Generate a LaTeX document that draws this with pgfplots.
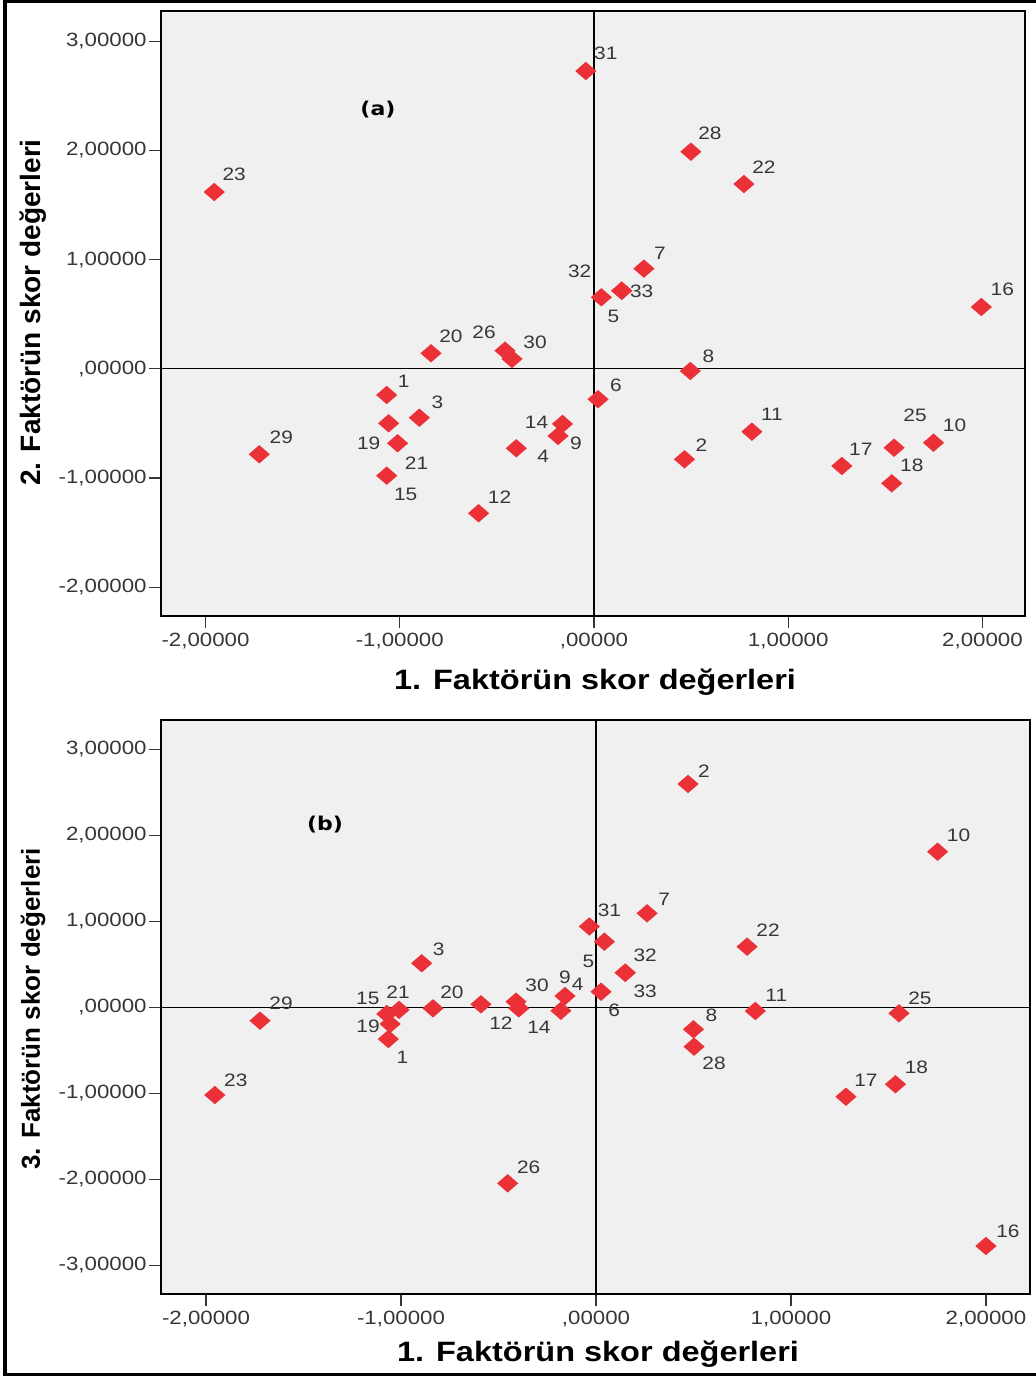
\documentclass[border=0pt]{standalone}
\usepackage{fontspec}
\setmainfont{Liberation Sans}[FakeStretch=1.16]
\newfontfamily\yfont{Liberation Sans}
\newfontfamily\pfont{DejaVu Sans}[FakeStretch=1.16]
\usepackage{pgfplots}
\usepackage{pgfplotstable}
\pgfplotsset{compat=1.18}
\definecolor{ptred}{RGB}{236,48,56}
\definecolor{bgg}{RGB}{240,240,240}
\definecolor{tk}{RGB}{55,55,55}

\pgfdeclareplotmark{rdia}{%
  \pgfpathmoveto{\pgfqpoint{0pt}{4.6pt}}%
  \pgfpathlineto{\pgfqpoint{5.3pt}{0pt}}%
  \pgfpathlineto{\pgfqpoint{0pt}{-4.6pt}}%
  \pgfpathlineto{\pgfqpoint{-5.3pt}{0pt}}%
  \pgfpathclose\pgfusepathqfill}

\pgfplotstableread{
lab x y dx dy
1 -1.067 -0.240 8.5 7
2 0.466 -0.829 8.5 7
3 -0.899 -0.448 9 7.5
4 -0.400 -0.728 13.5 -4
5 0.038 0.655 6 -9.5
6 0.021 -0.279 9 7
7 0.257 0.917 8 7.5
8 0.496 -0.020 9 7.5
9 -0.185 -0.615 9 -3.5
10 1.748 -0.677 10.5 8.5
11 0.813 -0.576 10 8.5
12 -0.594 -1.323 10.5 8
14 -0.162 -0.505 -13 1
15 -1.067 -0.979 9.5 -9.5
16 1.994 0.566 10.5 9
17 1.276 -0.890 9.5 8.5
18 1.533 -1.049 10 9
19 -1.057 -0.499 -10 -10
20 -0.839 0.142 10 8.5
21 -1.011 -0.682 9.5 -10
22 0.772 1.692 10 8.5
23 -1.955 1.619 10 9
25 1.545 -0.723 10.5 16
26 -0.458 0.166 -10.5 9
28 0.499 1.988 9.5 9
29 -1.723 -0.783 11 8.5
30 -0.422 0.090 11.5 8.5
31 -0.042 2.727 10 9
32 0.143 0.715 -21 9.5
33 0.143 0.715 10 -0.5
}\tabA

\pgfplotstableread{
lab x y dx dy
1 -1.065 -0.369 7 -9
2 0.472 2.597 8 6.5
3 -0.894 0.512 8.5 7
4 -0.396 -0.012 29.5 12
5 0.043 0.763 -8 -10
6 0.026 0.181 6.5 -9.5
7 0.262 1.093 8.5 7
8 0.500 -0.256 9 7
9 -0.159 0.131 0 9.5
10 1.752 1.809 10.5 8
11 0.817 -0.043 10.5 8
12 -0.590 0.035 10 -9.5
14 -0.180 -0.040 -11 -8.5
15 -1.073 -0.078 -9.5 8
16 2.000 -2.776 11 7.5
17 1.282 -1.040 10 8
18 1.536 -0.895 10.5 8.5
19 -1.056 -0.194 -11 -1
20 -0.836 -0.012 9.5 8
21 -1.010 -0.030 -0.5 9
22 0.775 0.705 10.5 8
23 -1.955 -1.020 10.5 7.5
25 1.554 -0.070 10.5 7.5
26 -0.453 -2.047 10.5 8
28 0.503 -0.458 10 -8.5
29 -1.723 -0.156 10.5 8.5
30 -0.410 0.065 10.5 8
31 -0.034 0.940 10 8
32 0.150 0.402 10 8.5
33 0.150 0.402 10 -9.5
}\tabB

\pgfplotsset{
  myscatter/.style={
    only marks, mark=rdia, color=ptred,
    nodes near coords, point meta=explicit symbolic,
    visualization depends on={\thisrow{dx}\as\lblx},
    visualization depends on={\thisrow{dy}\as\lbly},
    every node near coord/.append style={anchor=center, xshift=\lblx pt, yshift=\lbly pt,
      text=tk, font=\fontsize{9}{10}\selectfont, inner sep=0pt},
  },
  panel/.style={
    scale only axis, anchor=south west, clip=false,
    axis background/.style={fill=bgg},
    axis line style={line width=1.3pt, black},
    tick align=outside, tick pos=left, major tick length=6pt,
    every tick/.style={tk, line width=0.6pt},
    xtick={-2,-1,0,1,2},
    xticklabels={{-2,00000},{-1,00000},{,00000},{1,00000},{2,00000}},
    xticklabel style={text=tk, font=\fontsize{9.6}{11}\selectfont, inner sep=2.5pt},
    yticklabel style={text=tk, font=\fontsize{9.6}{11}\selectfont, inner sep=1pt},
  },
}

\begin{document}
\begin{tikzpicture}
\useasboundingbox (0,0) rectangle (518pt,688pt);
\fill[white] (0,0) rectangle (518pt,688pt);
% panel (a)
\begin{axis}[panel, at={(80.5pt,380pt)}, width=432pt, height=302.5pt,
  xmin=-2.229, xmax=2.219, ymin=-2.264, ymax=3.277,
  ytick={-2,-1,0,1,2,3},
  yticklabels={{-2,00000},{-1,00000},{,00000},{1,00000},{2,00000},{3,00000}}]
  \draw[black, line width=0.6pt] (axis cs:0,-2.264) -- (axis cs:0,3.277);
  \draw[black, line width=0.6pt] (axis cs:-2.229,0) -- (axis cs:2.219,0);
  \addplot[myscatter] table[x=x, y=y, meta=lab] {\tabA};
  \node[font=\pfont\bfseries\fontsize{9.5}{11}\selectfont] at (axis cs:-1.112,2.37) {(a)};
\end{axis}
% panel (b)
\begin{axis}[panel, at={(80.5pt,41pt)}, width=434.5pt, height=287pt,
  xmin=-2.231, xmax=2.226, ymin=-3.334, ymax=3.341,
  ytick={-3,-2,-1,0,1,2,3},
  yticklabels={{-3,00000},{-2,00000},{-1,00000},{,00000},{1,00000},{2,00000},{3,00000}}]
  \draw[black, line width=0.6pt] (axis cs:0,-3.334) -- (axis cs:0,3.341);
  \draw[black, line width=0.6pt] (axis cs:-2.231,0) -- (axis cs:2.226,0);
  \addplot[myscatter] table[x=x, y=y, meta=lab] {\tabB};
  \node[font=\pfont\bfseries\fontsize{9.5}{11}\selectfont] at (axis cs:-1.39,2.12) {(b)};
\end{axis}
% axis titles
\node[anchor=base, font=\bfseries\fontsize{14}{16}\selectfont] at (297.5pt,343pt) {1. Faktörün skor değerleri};
\node[anchor=base, font=\bfseries\fontsize{14}{16}\selectfont] at (299pt,7pt) {1. Faktörün skor değerleri};
\node[rotate=90, font=\yfont\bfseries\fontsize{14}{16}\selectfont] at (16.75pt,531.75pt) {2. Faktörün skor değerleri};
\node[rotate=90, font=\yfont\bfseries\fontsize{13}{15}\selectfont] at (16.5pt,183.5pt) {3. Faktörün skor değerleri};
% outer frame
\draw[black, line width=1.7pt] (518pt,687.2pt) -- (2.5pt,687.2pt) -- (2.5pt,0.7pt) -- (518pt,0.7pt);
\end{tikzpicture}
\end{document}
